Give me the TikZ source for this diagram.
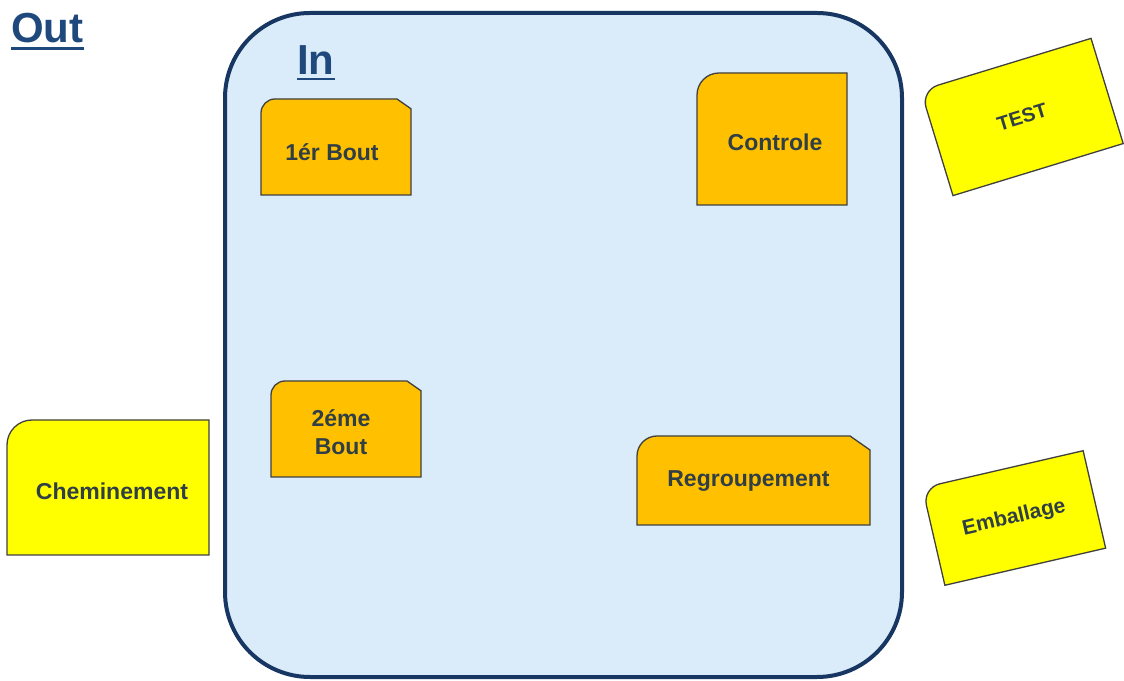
\documentclass[tikz,border=0pt]{standalone}
\usepackage{fontspec}
\setmainfont{Liberation Sans}
\usetikzlibrary{positioning}
\definecolor{ZoneBlue}{RGB}{23,54,98}
\definecolor{ZoneFill}{RGB}{218,236,250}
\definecolor{TitleBlue}{RGB}{31,73,125}
\definecolor{TaskOrange}{RGB}{255,192,0}
\definecolor{TaskYellow}{RGB}{255,255,0}
\definecolor{CardInk}{RGB}{48,62,70}
% card outline: width, height, corner radius, snip, style
\newcommand{\taskcard}[5]{\draw[#5] (-#1/2,-#2/2) -- (-#1/2,#2/2-#3) arc[start angle=180, end angle=90, radius=#3] -- (#1/2-#4,#2/2) -- (#1/2,#2/2-0.7*#4) -- (#1/2,-#2/2) -- cycle;}

\begin{document}
\begin{tikzpicture}[x=1pt, y=1pt, every node/.style={font=\bfseries\fontsize{23}{28}\selectfont, text=CardInk, align=center},
  orangecard/.style={draw=black!75, line width=1.3pt, fill=TaskOrange},
  yellowcard/.style={draw=black!75, line width=1.3pt, fill=TaskYellow},
  title/.style={font=\bfseries\fontsize{42}{42}\selectfont, text=TitleBlue, anchor=base west, inner sep=0pt}]
  \useasboundingbox (0,0) rectangle (1124,680);
  \node[draw=ZoneBlue, line width=4pt, fill=ZoneFill, rounded corners=85pt, minimum width=677pt, minimum height=664pt] (inzone) at (563.5,335) {};
  \node[title] (outlabel) at (11,637) {Out};
  \node[title] (inlabel) at (297,605) {In};
  \draw[TitleBlue, line width=2.5pt] ([yshift=-5pt]outlabel.south west) -- ([yshift=-5pt]outlabel.south east);
  \draw[TitleBlue, line width=2.5pt] ([yshift=-4pt]inlabel.south west) -- ([yshift=-4pt]inlabel.south east);
  % inside
  \begin{scope}[shift={(336,533)}]
    \taskcard{150}{96}{14}{14}{orangecard}
    \node (bout1) at (-4,-5) {1ér Bout};
  \end{scope}
  \begin{scope}[shift={(772,541)}]
    \taskcard{150}{132}{22}{0}{orangecard}
    \node (controle) at (3,-3) {Controle};
  \end{scope}
  \begin{scope}[shift={(346,251)}]
    \taskcard{150}{96}{14}{14}{orangecard}
    \node (bout2) at (-5,-3) {2éme\\Bout};
  \end{scope}
  \begin{scope}[shift={(753.5,199.5)}]
    \taskcard{233}{89}{20}{20}{orangecard}
    \node (regroup) at (-5,-1) {Regroupement};
  \end{scope}
  % outside
  \begin{scope}[shift={(108,192.5)}]
    \taskcard{202}{135}{25}{0}{yellowcard}
    \node (chemin) at (4,-4) {Cheminement};
  \end{scope}
  \begin{scope}[shift={(1022,563)}, rotate=17, transform shape]
    \taskcard{178}{110}{18}{0}{yellowcard}
    \node[font=\bfseries\fontsize{20}{24}\selectfont] (test) at (0,0) {TEST};
  \end{scope}
  \begin{scope}[shift={(1014,162)}, rotate=13, transform shape]
    \taskcard{165}{100}{18}{0}{yellowcard}
    \node[font=\bfseries\fontsize{21}{24}\selectfont] (emballage) at (0,0) {Emballage};
  \end{scope}
\end{tikzpicture}
\end{document}
